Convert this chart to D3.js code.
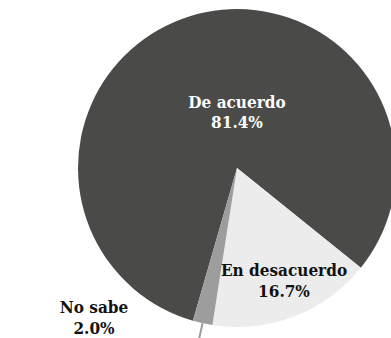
<!DOCTYPE html>
<html><head><meta charset="utf-8">
<script src="https://cdn.jsdelivr.net/npm/d3@7"></script>
<style>html,body{margin:0;padding:0;background:#fff;overflow:hidden}</style>
</head><body>
<svg id="c" width="391" height="338"></svg>
<script>
const categories = ["De acuerdo", "En desacuerdo", "No sabe"];
const values = [81.4, 16.7, 2.0];
const labels = ["81.4%", "16.7%", "2.0%"];
const colors = ["#4a4a49", "#ececec", "#9d9d9d"];
const textColors = ["#ffffff", "#111111", "#111111"];

const svg = d3.select("#c");
const cx = 237, cy = 168, R = 159;
const g = svg.append("g").attr("transform", `translate(${cx},${cy})`);

const startDeg = -163.9;
const pie = d3.pie().sort(null).value(d => d)
  .startAngle(startDeg * Math.PI / 180)
  .endAngle((startDeg + 360) * Math.PI / 180);
const arcs = pie(values);
const arc = d3.arc().innerRadius(0).outerRadius(R);

g.selectAll("path.slice").data(arcs).join("path")
  .attr("class", "slice")
  .attr("d", arc)
  .attr("fill", (d, i) => colors[i]);

// connector for small slice
const small = arcs[2];
const mid = (small.startAngle + small.endAngle) / 2;
g.append("line")
  .attr("x1", Math.sin(mid) * R).attr("y1", -Math.cos(mid) * R)
  .attr("x2", Math.sin(mid) * (R + 30)).attr("y2", -Math.cos(mid) * (R + 30))
  .attr("stroke", "#9d9d9d").attr("stroke-width", 2);

// label positions relative to centre
const labelPos = [[0, -60.5], [47, 108], [-143, 145]];
const font = "'DejaVu Serif Condensed', 'DejaVu Serif', serif";
categories.forEach((c, i) => {
  const t = g.append("text")
    .attr("text-anchor", "middle")
    .attr("font-family", font)
    .style("font-stretch", "condensed")
    .attr("font-size", 17)
    .attr("font-weight", "bold")
    .attr("fill", textColors[i])
    .attr("x", labelPos[i][0]).attr("y", labelPos[i][1]);
  t.append("tspan").attr("x", labelPos[i][0]).text(c);
  t.append("tspan").attr("x", labelPos[i][0]).attr("dy", 20.5).text(labels[i]);
});
</script>
</body></html>
